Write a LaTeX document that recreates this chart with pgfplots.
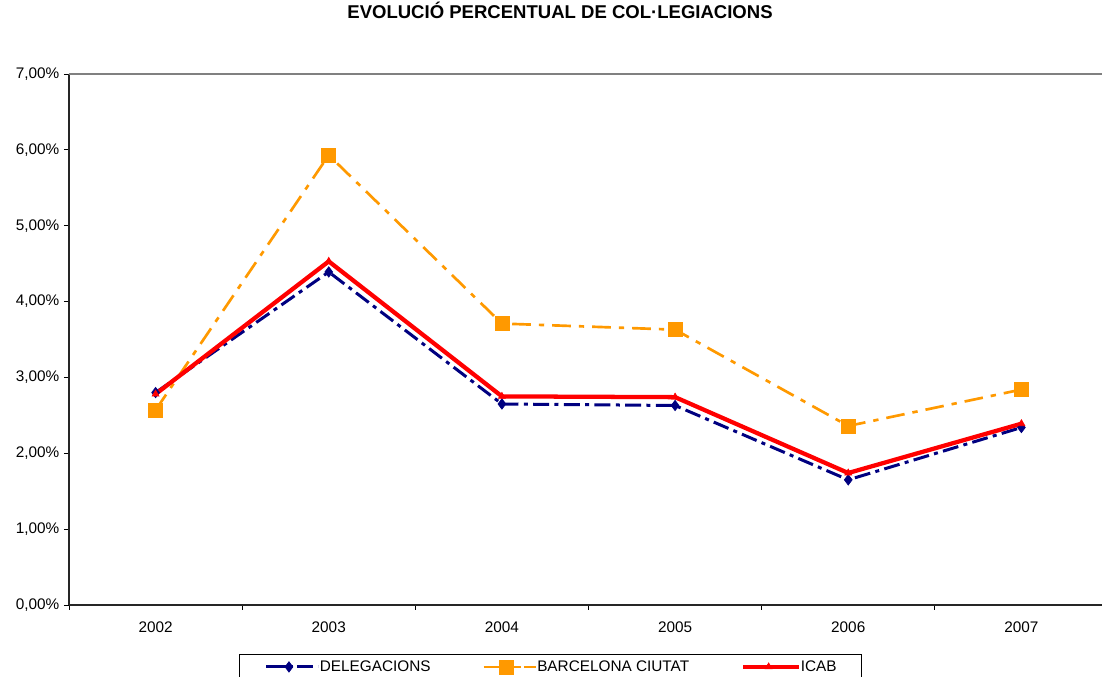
\documentclass[border=0pt]{standalone}
\usepackage{fontspec}
\setmainfont{Liberation Sans}
\usepackage{pgfplots}
\pgfplotsset{compat=1.18}
\definecolor{navyc}{RGB}{0,0,128}
\definecolor{orangec}{RGB}{255,153,0}
\definecolor{redc}{RGB}{255,0,0}
\pgfplotsset{
  legshort/.style={legend image code/.code={\draw[mark repeat=2,mark phase=2,##1, dash pattern=on 20pt off 4pt on 4pt off 20pt] plot coordinates {(0pt,0pt) (17pt,0pt) (28pt,0pt)}; \path (0pt,0pt) -- (39pt,0pt);}},
  leglong/.style={legend image code/.code={\draw[mark repeat=2,mark phase=2,##1] plot coordinates {(0pt,0pt) (19pt,0pt) (40pt,0pt)}; \path (0pt,0pt) -- (41.5pt,0pt);}},
}
\begin{document}
\begin{tikzpicture}
\useasboundingbox (-51.75pt,-54pt) rectangle (774.75pt,453.75pt);
\clip (-51.75pt,-54pt) rectangle (774.75pt,453.75pt);
\begin{axis}[
  scale only axis, width=779.25pt, height=398.25pt,
  xmin=-0.5, xmax=5.5, ymin=0, ymax=7,
  axis lines*=left,
  axis line style={black!85, line width=0.8pt},
  tick align=outside,
  major tick length=3.75pt,
  tick style={black, line width=0.6pt},
  xtick={-0.5,0.5,1.5,2.5,3.5,4.5},
  xticklabels={},
  extra x ticks={0,1,2,3,4,5},
  extra x tick labels={2002,2003,2004,2005,2006,2007},
  extra x tick style={major tick length=0pt, xticklabel style={yshift=-9pt}},
  ytick={0,1,2,3,4,5,6,7},
  yticklabel={\pgfmathprintnumber[fixed,fixed zerofill,precision=2,use comma]{\tick}\%},
  /pgf/number format/assume math mode=true,
  tick label style={font=\fontsize{11.5}{13}\selectfont},
  title={EVOLUCIÓ PERCENTUAL DE COL·LEGIACIONS},
  title style={font=\bfseries\fontsize{13.9}{16}\selectfont, at={(rel axis cs:0.4726,1.1055)}, anchor=center},
  legend columns=3,
  legend style={at={(rel axis cs:0.1636,-0.0923)}, anchor=north west, draw=black, line width=0.75pt,
    inner xsep=19pt, inner ysep=4pt, font=\fontsize{11.5}{13}\selectfont,
    nodes={inner sep=0pt},
    /tikz/every odd column/.append style={column sep=0pt},
    /tikz/every even column/.append style={column sep=39pt}},
]
\draw[gray, line width=1.2pt] (rel axis cs:0,1) -- (rel axis cs:1,1);
\addplot[navyc, line width=2.25pt, dash pattern=on 12pt off 4pt on 3pt off 4pt,
  mark=diamond*, mark size=3.9pt, mark options={solid, line width=0.5pt}, legshort]
  coordinates {(0,2.80) (1,4.39) (2,2.65) (3,2.63) (4,1.65) (5,2.34)};
\addlegendentry{DELEGACIONS}
\addplot[orangec, line width=2pt, dash pattern=on 14pt off 6pt on 4pt off 6pt,
  mark=square*, mark size=5.3pt, mark options={solid, line width=0.5pt}, legshort]
  coordinates {(0,2.57) (1,5.93) (2,3.71) (3,3.63) (4,2.36) (5,2.84)};
\addlegendentry{BARCELONA CIUTAT}
\addplot[redc, line width=3.2pt,
  mark=triangle*, mark size=3pt, mark options={solid, line width=0.5pt}, leglong]
  coordinates {(0,2.78) (1,4.53) (2,2.75) (3,2.74) (4,1.74) (5,2.39)};
\addlegendentry{ICAB}
\end{axis}
\end{tikzpicture}
\end{document}
